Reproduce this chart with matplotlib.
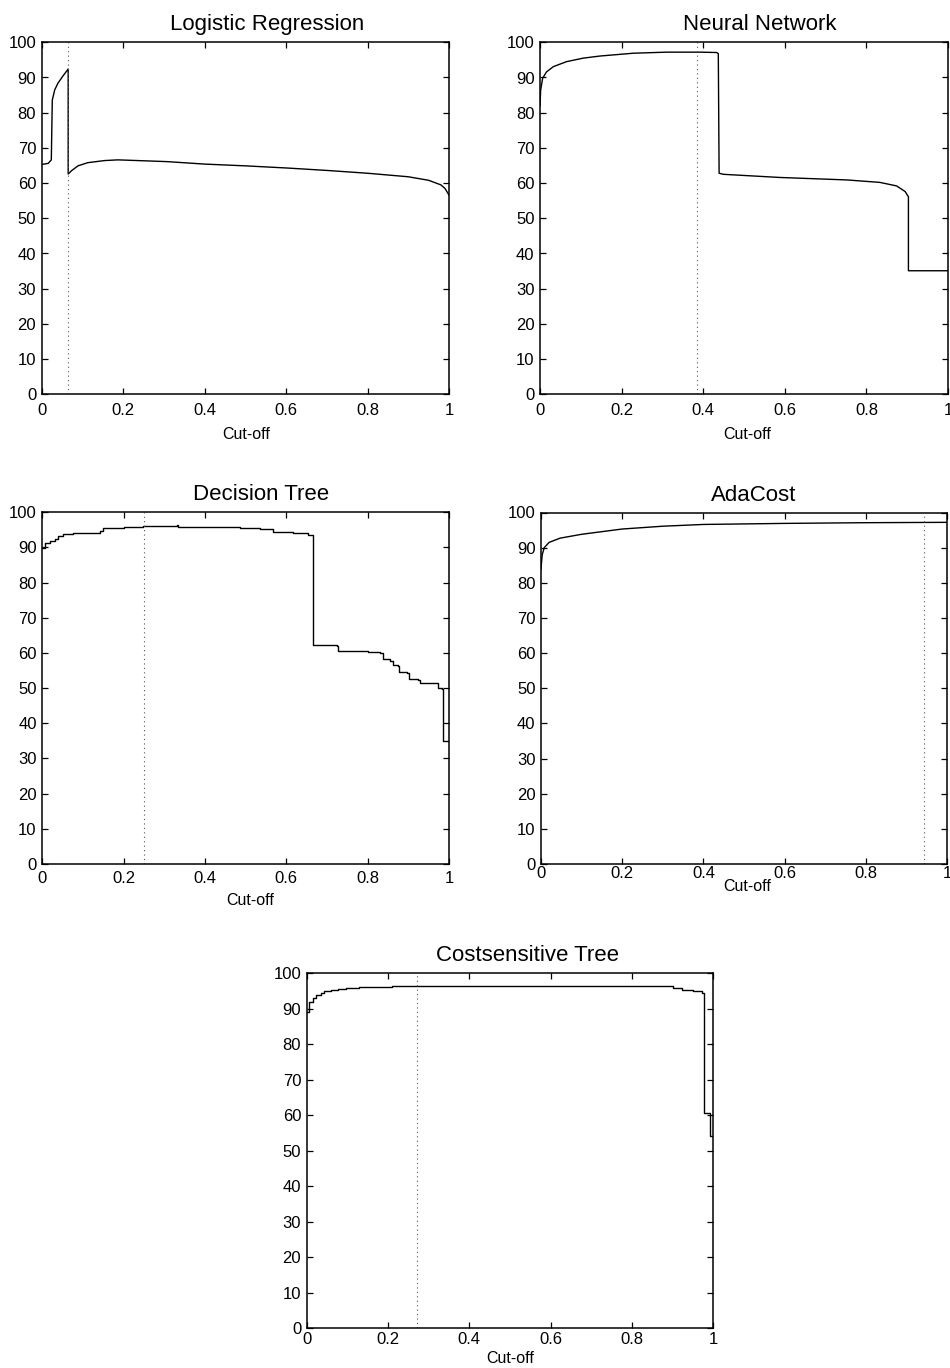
import matplotlib
matplotlib.use("Agg")
import matplotlib.pyplot as plt

plt.rcParams['font.family'] = ['Liberation Sans', 'DejaVu Sans']

# ---- data ----
titles = ["Logistic Regression", "Neural Network", "Decision Tree", "AdaCost", "Costsensitive Tree"]

lr_x = [0, 0.016, 0.0236, 0.026, 0.032, 0.040, 0.052, 0.065, 0.065, 0.073, 0.089, 0.113, 0.154,
        0.187, 0.236, 0.308, 0.4, 0.5, 0.6, 0.7, 0.8, 0.9, 0.95, 0.98, 0.99, 1.0]
lr_y = [65.3, 65.6, 66.6, 83.6, 86.5, 88.4, 90.4, 92.4, 62.6, 63.5, 64.9, 65.8, 66.4,
        66.6, 66.4, 66.1, 65.4, 64.9, 64.3, 63.6, 62.8, 61.8, 60.8, 59.5, 58.5, 56.6]

nn_x = [0, 0.0016, 0.0065, 0.016, 0.033, 0.065, 0.106, 0.147, 0.229, 0.31, 0.392, 0.433, 0.437,
        0.439, 0.449, 0.588, 0.752, 0.833, 0.874, 0.895, 0.903, 0.903, 1.0]
nn_y = [82, 86.4, 89.8, 91.6, 93.1, 94.5, 95.5, 96.1, 96.9, 97.2, 97.2, 97.1, 96.8,
        62.8, 62.5, 61.6, 60.9, 60.2, 59.2, 57.6, 56.1, 35.1, 35.1]

dt_x = [0, 0.0066, 0.019, 0.031, 0.039, 0.052, 0.076, 0.142, 0.15, 0.2, 0.248, 0.33, 0.334, 0.42,
        0.486, 0.535, 0.568, 0.617, 0.654, 0.666, 0.666, 0.724, 0.726, 0.80, 0.83, 0.838, 0.855,
        0.863, 0.875, 0.878, 0.896, 0.902, 0.925, 0.929, 0.966, 0.974, 0.982, 0.986, 0.986, 1.0]
dt_y = [89.8, 91.2, 91.9, 92.3, 93.3, 93.8, 94.2, 94.8, 95.4, 95.7, 96.2, 96.3, 95.9, 95.9,
        95.5, 95.2, 94.4, 94.0, 93.6, 92.9, 62.3, 62.0, 60.6, 60.4, 59.9, 58.2, 57.8,
        56.6, 56.3, 54.7, 54.4, 52.6, 52.3, 51.6, 51.4, 50.0, 49.7, 48.5, 35.1, 35.1]

ac_x = [0, 0.003, 0.008, 0.02, 0.047, 0.1, 0.2, 0.3, 0.4, 0.6, 0.8, 1.0]
ac_y = [84, 88, 90, 91.5, 92.7, 93.8, 95.3, 96.1, 96.6, 96.9, 97.1, 97.2]

cst_x = [0, 0.0066, 0.015, 0.023, 0.035, 0.043, 0.06, 0.076, 0.096, 0.129, 0.211, 0.4, 0.6, 0.85,
         0.902, 0.922, 0.951, 0.971, 0.977, 0.977, 0.992, 0.992, 1.0]
cst_y = [89.2, 92.0, 93.0, 93.9, 94.4, 95.0, 95.3, 95.7, 95.9, 96.2, 96.4, 96.5, 96.5, 96.4,
         95.9, 95.3, 94.9, 94.4, 94.2, 60.6, 60.3, 54.0, 54.0]

thresholds = [0.065, 0.384, 0.251, 0.944, 0.272]

series = [(lr_x, lr_y, 'default'), (nn_x, nn_y, 'default'), (dt_x, dt_y, 'steps-post'),
          (ac_x, ac_y, 'default'), (cst_x, cst_y, 'steps-post')]

xticks = [0, 0.2, 0.4, 0.6, 0.8, 1.0]
xticklabels = ["0", "0.2", "0.4", "0.6", "0.8", "1"]
yticks = list(range(0, 101, 10))

# ---- layout (figure fractions) ----
W, H = 950, 1368
boxes = [
    (41.7, 42.3, 449.0, 394.3),
    (540.0, 42.3, 948.0, 394.3),
    (42.3, 512.3, 449.0, 864.0),
    (541.0, 512.5, 947.0, 864.0),
    (306.7, 973.3, 713.3, 1328.0),
]
title_x = [0.553, 0.539, 0.539, 0.524, 0.542]
xlabel_x = [0.503, 0.508, 0.51, 0.508, 0.50]
xlabel_y = [-0.092, -0.092, -0.083, -0.042, -0.065]
tick_pad = [6.5, 6.5, 5.0, 1.5, 3.0]

fig = plt.figure(figsize=(W / 100, H / 100), dpi=100)

for i, (l, t, r, b) in enumerate(boxes):
    ax = fig.add_axes([l / W, 1 - b / H, (r - l) / W, (b - t) / H])
    x, y, ds = series[i]
    ax.plot(x, y, color='black', lw=1.0, drawstyle=ds)
    ax.axvline(thresholds[i], color='#555555', lw=0.8, ls=(0, (1, 3)))
    ax.set_xlim(0, 1)
    ax.set_ylim(0, 100)
    ax.set_xticks(xticks)
    ax.set_xticklabels(xticklabels)
    ax.set_yticks(yticks)
    ax.tick_params(direction='in', top=True, right=True, length=4.5, width=0.9,
                   labelsize=12, colors='black')
    ax.tick_params(axis='x', pad=tick_pad[i])
    ax.tick_params(axis='y', pad=4)
    for s in ax.spines.values():
        s.set_linewidth(1.1)
    ax.set_title(titles[i], fontsize=16, x=title_x[i], pad=8.5)
    ax.set_xlabel("Cut-off", fontsize=11.5)
    ax.xaxis.set_label_coords(xlabel_x[i], xlabel_y[i])
    ax.xaxis.label.set_va('top')

fig.savefig("out.png", dpi=100)
